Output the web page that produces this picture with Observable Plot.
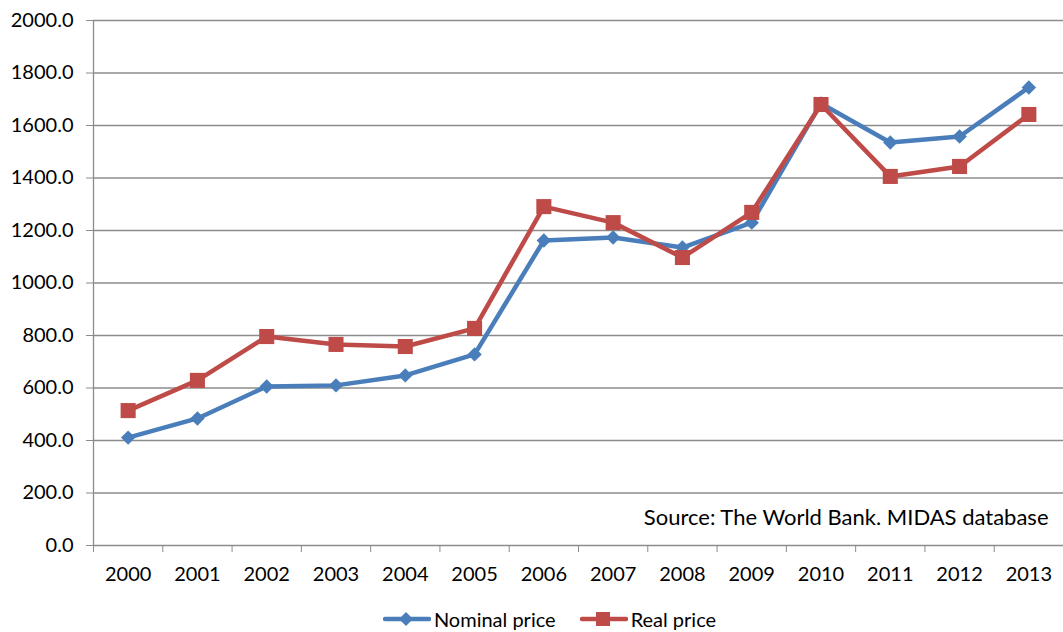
<!DOCTYPE html>
<html><head><meta charset="utf-8">
<script src="https://cdn.jsdelivr.net/npm/d3@7"></script>
<script src="https://cdn.jsdelivr.net/npm/@observablehq/plot@0.6"></script>
<style>
body{margin:0;background:#fff;font-family:Lato,"Open Sans",sans-serif;}
#legend{display:flex;justify-content:center;align-items:center;height:30px;font-size:20px;color:#000;margin-left:60px;padding-top:10px}
#legend .item{display:flex;align-items:center;margin:0 24px 0 0}
</style></head><body>
<div id="chart"></div>
<div id="legend"></div>
<script>
const years = [2000,2001,2002,2003,2004,2005,2006,2007,2008,2009,2010,2011,2012,2013];
const nominal = [411,484,606,610,648,728,1162,1173,1135,1230,1684,1535,1558,1745];
const real = [514,629,796,766,758,827,1291,1230,1097,1269,1680,1406,1444,1642];
const yTicks = [0,200,400,600,800,1000,1200,1400,1600,1800,2000];
const seriesNames = ["Nominal price","Real price"];
const colors = ["#4a7ebb","#be4b48"];
const sourceText = "Source: The World Bank. MIDAS database";

const nomData = years.map((y,i)=>({year:y, value:nominal[i]}));
const realData = years.map((y,i)=>({year:y, value:real[i]}));
const bounds = [...years.map(y=>y-0.5), years[years.length-1]+0.5];

const chart = Plot.plot({
  width:1063, height:594,
  marginLeft:93, marginRight:0, marginTop:20, marginBottom:49,
  style:{fontFamily:"Lato, 'Open Sans', sans-serif", fontSize:"20px", color:"#000", background:"#fff"},
  x:{type:"linear", domain:[years[0]-0.5, years[years.length-1]+0.5]},
  y:{domain:[0,2000]},
  marks:[
    Plot.gridY(yTicks.slice(1), {stroke:"#8c8c8c", strokeOpacity:1, strokeWidth:1.3}),
    Plot.axisY(yTicks, {tickFormat:d=>d.toFixed(1), tickSize:7, tickPadding:13, stroke:"#8c8c8c", fontSize:20, label:null}),
    Plot.axisX(bounds, {tickFormat:()=>"", tickSize:7, stroke:"#8c8c8c", label:null}),
    Plot.axisX(years, {tickFormat:d=>String(d), tickSize:0, tickPadding:21, fontSize:20, label:null}),
    Plot.ruleX([years[0]-0.5], {stroke:"#8c8c8c", strokeWidth:1.3}),
    Plot.ruleY([0], {stroke:"#8c8c8c", strokeWidth:1.3}),
    Plot.line(nomData, {x:"year", y:"value", stroke:colors[0], strokeWidth:4.5}),
    Plot.line(realData, {x:"year", y:"value", stroke:colors[1], strokeWidth:4.5}),
    Plot.dot(nomData, {x:"year", y:"value", symbol:"diamond2", r:6.5, fill:colors[0], stroke:"none"}),
    Plot.dot(realData, {x:"year", y:"value", symbol:"square", r:8.5, fill:colors[1], stroke:"none"}),
    Plot.text([sourceText], {frameAnchor:"bottom-right", textAnchor:"end", lineAnchor:"bottom", dx:-15, dy:-21, fontSize:22, fill:"#000"})
  ]
});
document.getElementById("chart").appendChild(chart);

const legend = document.getElementById("legend");
const sym = [
  '<polygon points="23,3 30,10 23,17 16,10" fill="'+colors[0]+'"/>',
  '<rect x="16" y="3" width="14" height="14" fill="'+colors[1]+'"/>'
];
seriesNames.forEach((name,i)=>{
  const it = document.createElement("div");
  it.className="item";
  it.innerHTML = '<svg width="48" height="20"><line x1="2" x2="46" y1="10" y2="10" stroke="'+colors[i]+'" stroke-width="4.5" stroke-linecap="round"/>'+sym[i]+'</svg><span style="margin-left:3px">'+name+'</span>';
  legend.appendChild(it);
});
</script>
</body></html>
